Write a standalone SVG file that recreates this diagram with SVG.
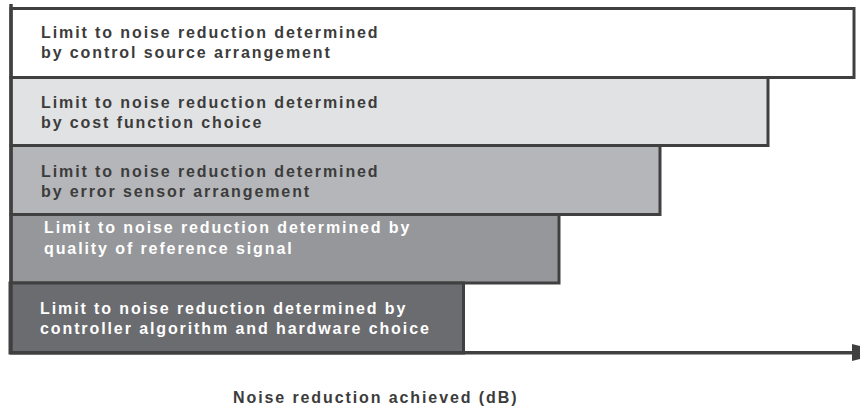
<svg xmlns="http://www.w3.org/2000/svg" width="860" height="410" viewBox="0 0 860 410">
<style>
.box{stroke:#404040;stroke-width:3}
.t{font-family:"Liberation Sans",Arial,sans-serif;font-weight:bold;font-size:16px;letter-spacing:1.9px}
.dk{fill:#3c3c3c}
.lt{fill:#ffffff}
.ax{stroke:#404040;stroke-width:3.5;fill:none}
</style>
<rect width="860" height="410" fill="#ffffff"/>
<g id="box1">
<rect class="box" x="11" y="8.5" width="843" height="69" fill="#ffffff"/>
<text class="t dk" x="41" y="38">Limit to noise reduction determined</text>
<text class="t dk" x="41" y="58">by control source arrangement</text>
</g>
<g id="box2">
<rect class="box" x="11" y="77.5" width="757" height="68" fill="#e1e2e4"/>
<text class="t dk" x="41" y="107.5">Limit to noise reduction determined</text>
<text class="t dk" x="41" y="128">by cost function choice</text>
</g>
<g id="box3">
<rect class="box" x="11" y="145.5" width="649" height="69" fill="#b5b6b9"/>
<text class="t dk" x="41" y="176.5">Limit to noise reduction determined</text>
<text class="t dk" x="41" y="197">by error sensor arrangement</text>
</g>
<g id="box4">
<rect class="box" x="11" y="214.5" width="548" height="68.5" fill="#96979a"/>
<text class="t lt" x="44" y="233">Limit to noise reduction determined by</text>
<text class="t lt" x="44" y="253.5">quality of reference signal</text>
</g>
<g id="box5">
<rect class="box" x="10" y="283" width="453.5" height="70" fill="#6b6c6f"/>
<text class="t lt" x="40" y="313.5">Limit to noise reduction determined by</text>
<text class="t lt" x="40" y="334">controller algorithm and hardware choice</text>
</g>
<g id="connectors">
<line class="ax" x1="11" y1="4" x2="11" y2="354"/>
<line class="ax" x1="10" y1="352.7" x2="854" y2="352.7"/>
<polygon points="852,344 886,352.5 852,361" fill="#404040"/>
</g>
<g id="axis-label">
<text class="t dk" x="233" y="403">Noise reduction achieved (dB)</text>
</g>
</svg>
